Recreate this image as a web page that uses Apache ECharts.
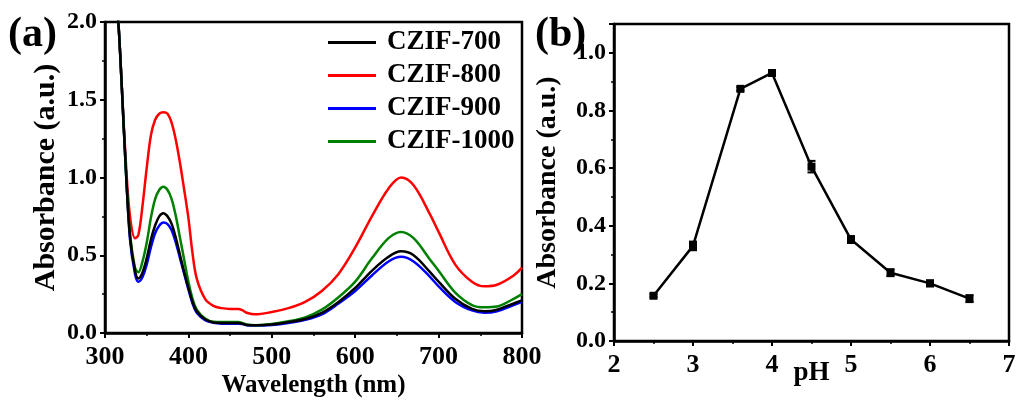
<!DOCTYPE html>
<html>
<head>
<meta charset="utf-8">
<script src="https://cdn.jsdelivr.net/npm/echarts@6/dist/echarts.min.js"></script>
<style>
  html, body { margin: 0; padding: 0; background: #fff; }
  #chart { width: 1016px; height: 401px; }
</style>
</head>
<body>
<div id="chart"></div>
<script>
// ---- Panel (a): UV-vis spectra ----
const wavelengths = [300, 305, 310, 316, 320, 325, 330, 336, 340, 345, 350, 355, 360, 365, 370, 375, 380, 385, 390, 395, 400, 405, 410, 420, 430, 440, 450, 460, 465, 470, 480, 500, 520, 540, 560, 580, 600, 620, 640, 655, 670, 690, 700, 720, 740, 755, 770, 790, 800];

const czif700 = [3.2, 2.8, 2.4, 2.0, 1.6, 1.05, 0.62, 0.40, 0.35, 0.39, 0.48, 0.60, 0.69, 0.75, 0.77, 0.75, 0.70, 0.61, 0.50, 0.39, 0.29, 0.20, 0.14, 0.088, 0.068, 0.065, 0.065, 0.065, 0.06, 0.052, 0.05, 0.055, 0.07, 0.09, 0.13, 0.20, 0.29, 0.40, 0.49, 0.525, 0.50, 0.39, 0.33, 0.22, 0.155, 0.14, 0.15, 0.19, 0.21];
const czif800 = [3.2, 2.8, 2.4, 2.0, 1.6, 1.1, 0.75, 0.61, 0.63, 0.82, 1.06, 1.27, 1.37, 1.41, 1.42, 1.41, 1.35, 1.24, 1.09, 0.92, 0.74, 0.51, 0.35, 0.22, 0.175, 0.16, 0.155, 0.155, 0.145, 0.13, 0.12, 0.135, 0.16, 0.20, 0.27, 0.38, 0.55, 0.75, 0.93, 1.00, 0.95, 0.76, 0.65, 0.44, 0.33, 0.30, 0.31, 0.37, 0.42];
const czif900 = [3.2, 2.8, 2.4, 2.0, 1.6, 1.05, 0.60, 0.38, 0.33, 0.36, 0.44, 0.55, 0.64, 0.69, 0.71, 0.70, 0.66, 0.58, 0.48, 0.38, 0.28, 0.19, 0.13, 0.083, 0.065, 0.06, 0.06, 0.06, 0.057, 0.05, 0.048, 0.052, 0.065, 0.085, 0.12, 0.19, 0.27, 0.37, 0.46, 0.49, 0.46, 0.36, 0.30, 0.20, 0.145, 0.13, 0.14, 0.18, 0.20];
const czif1000 = [3.2, 2.8, 2.4, 2.0, 1.6, 1.05, 0.64, 0.42, 0.39, 0.46, 0.58, 0.74, 0.86, 0.92, 0.94, 0.92, 0.86, 0.75, 0.61, 0.47, 0.33, 0.22, 0.15, 0.093, 0.072, 0.07, 0.07, 0.07, 0.063, 0.055, 0.05, 0.058, 0.075, 0.10, 0.15, 0.23, 0.33, 0.48, 0.61, 0.65, 0.61, 0.47, 0.40, 0.26, 0.18, 0.165, 0.17, 0.22, 0.25];

const seriesNames = ['CZIF-700', 'CZIF-800', 'CZIF-900', 'CZIF-1000'];
const seriesColors = ['#000000', '#ff0000', '#0000ff', '#008000'];

// ---- Panel (b): absorbance vs pH ----
const phValues = [2.5, 3.0, 3.6, 4.0, 4.5, 5.0, 5.5, 6.0, 6.5];
const phAbsorbance = [0.157, 0.330, 0.875, 0.930, 0.605, 0.352, 0.237, 0.200, 0.147];
const phError = [0.005, 0.015, 0.006, 0.010, 0.020, 0.012, 0.012, 0.010, 0.012];

const FONT = '"Liberation Serif", "DejaVu Serif", serif';
const black = '#000';

function pair(xs, ys) { return xs.map((x, i) => [x, ys[i]]); }

const axisCommon = {
  axisLine: { show: true, onZero: false, lineStyle: { color: black, width: 2.5 } },
  axisTick: { show: true, length: 5, lineStyle: { color: black, width: 2 } },
  minorTick: { show: true, splitNumber: 2, length: 3, lineStyle: { color: black, width: 1.5 } },
  splitLine: { show: false },
  nameMoveOverlap: false,
  axisLabel: { color: black, fontFamily: FONT, fontWeight: 'bold', fontSize: 24 },
  nameTextStyle: { color: black, fontFamily: FONT, fontWeight: 'bold', fontSize: 25 }
};

function merge(extra) {
  const o = JSON.parse(JSON.stringify(axisCommon));
  for (const k in extra) {
    if (typeof extra[k] === 'object' && o[k] && typeof o[k] === 'object' && !Array.isArray(extra[k])) {
      o[k] = Object.assign({}, o[k], extra[k]);
    } else {
      o[k] = extra[k];
    }
  }
  return o;
}

const spectraSeries = [czif700, czif800, czif900, czif1000].map((vals, i) => ({
  name: seriesNames[i],
  type: 'line',
  xAxisIndex: 0,
  yAxisIndex: 0,
  data: pair(wavelengths, vals),
  smooth: 0.35,
  showSymbol: false,
  symbol: 'none',
  clip: true,
  z: i === 0 ? 5 : 3,
  lineStyle: { color: seriesColors[i], width: 2.5 },
  itemStyle: { color: seriesColors[i] }
}));

const errorData = phValues.map((x, i) => [x, phAbsorbance[i] - phError[i], phAbsorbance[i] + phError[i]]);

const chart = echarts.init(document.getElementById('chart'), null, { renderer: 'canvas' });
chart.setOption({
  backgroundColor: '#fff',
  animation: false,
  grid: [
    { left: 105, top: 22, width: 417, height: 311, show: true, borderColor: black, borderWidth: 2.5, outerBoundsMode: 'none', containLabel: false },
    { left: 614, top: 24, width: 395, height: 317, show: true, borderColor: black, borderWidth: 2.5, outerBoundsMode: 'none', containLabel: false }
  ],
  legend: {
    data: seriesNames,
    left: 323,
    top: 24,
    orient: 'vertical',
    icon: 'rect',
    itemWidth: 48,
    itemHeight: 3,
    itemGap: 6,
    textStyle: { color: black, fontFamily: FONT, fontWeight: 'bold', fontSize: 27, padding: [0, 0, 0, 6] }
  },
  xAxis: [
    merge({
      type: 'value', gridIndex: 0, min: 300, max: 800, interval: 100,
      name: 'Wavelength (nm)', nameLocation: 'middle', nameGap: 40,
      axisLabel: { margin: 11, fontSize: 26 }
    }),
    merge({
      type: 'value', gridIndex: 1, min: 2, max: 7, interval: 1,
      name: 'pH', nameLocation: 'middle', nameGap: 19,
      nameTextStyle: { fontSize: 27 },
      axisLabel: { margin: 11, fontSize: 26 }
    })
  ],
  yAxis: [
    merge({
      type: 'value', gridIndex: 0, min: 0, max: 2, interval: 0.5,
      name: 'Absorbance (a.u.)', nameLocation: 'middle', nameGap: 44, nameRotate: 90,
      nameTextStyle: { fontSize: 30 },
      axisLabel: { margin: 8, formatter: v => v.toFixed(1) }
    }),
    merge({
      type: 'value', gridIndex: 1, min: 0, max: 1.1, interval: 0.2,
      name: 'Absorbance (a.u.)', nameLocation: 'middle', nameGap: 52, nameRotate: 90,
      nameTextStyle: { fontSize: 28 },
      axisLabel: { margin: 8, showMaxLabel: false, formatter: v => v.toFixed(1) }
    })
  ],
  graphic: [
    { type: 'text', left: 8, top: 14, style: { text: '(a)', fill: black, font: 'bold 42px ' + FONT } },
    { type: 'text', left: 535, top: 14, style: { text: '(b)', fill: black, font: 'bold 42px ' + FONT } }
  ],
  series: spectraSeries.concat([
    {
      name: 'pH absorbance',
      type: 'line',
      xAxisIndex: 1,
      yAxisIndex: 1,
      data: pair(phValues, phAbsorbance),
      symbol: 'rect',
      symbolSize: 8,
      lineStyle: { color: black, width: 2.5 },
      itemStyle: { color: black },
      z: 4
    },
    {
      name: 'pH error',
      type: 'custom',
      xAxisIndex: 1,
      yAxisIndex: 1,
      data: errorData,
      z: 5,
      renderItem: function (params, api) {
        const x = api.value(0);
        const lo = api.coord([x, api.value(1)]);
        const hi = api.coord([x, api.value(2)]);
        const cap = 4;
        const st = { stroke: black, lineWidth: 2 };
        return {
          type: 'group',
          children: [
            { type: 'line', shape: { x1: lo[0], y1: lo[1], x2: hi[0], y2: hi[1] }, style: st },
            { type: 'line', shape: { x1: lo[0] - cap, y1: lo[1], x2: lo[0] + cap, y2: lo[1] }, style: st },
            { type: 'line', shape: { x1: hi[0] - cap, y1: hi[1], x2: hi[0] + cap, y2: hi[1] }, style: st }
          ]
        };
      }
    }
  ])
});
</script>
</body>
</html>
